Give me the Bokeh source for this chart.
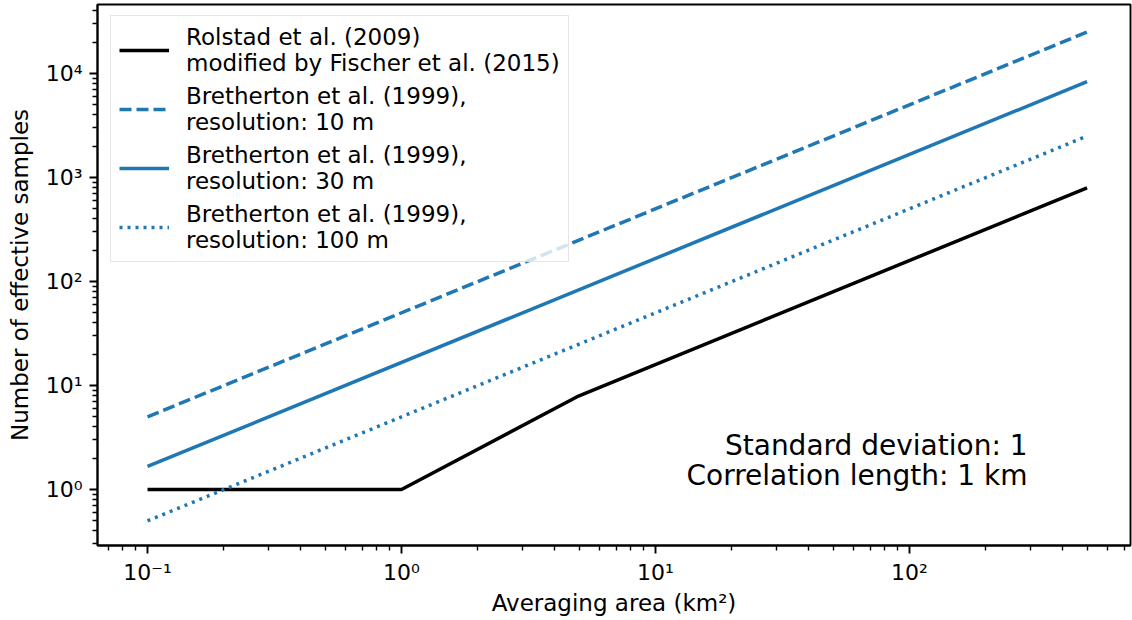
from bokeh.plotting import figure
from bokeh.models import Range1d, FixedTicker, Legend, LegendItem, Label, CustomJSTickFormatter
from bokeh.embed import file_html
from bokeh.resources import INLINE

# ---- data ----
area_rolstad = [0.1, 1.0, 5.0, 500.0]
n_rolstad = [1.0, 1.0, 7.96, 796.0]
area_bret = [0.1, 500.0]
n_bret_10m = [5.0, 25000.0]
n_bret_30m = [1.667, 8333.0]
n_bret_100m = [0.5, 2500.0]

x_major = [0.1, 1, 10, 100]
y_major = [1, 10, 100, 1000, 10000]
x_minor = [m * 10.0 ** e for e in (-2, -1, 0, 1, 2) for m in range(2, 10)]
y_minor = [m * 10.0 ** e for e in (-1, 0, 1, 2, 3, 4) for m in range(2, 10)]

labels = [
    "Rolstad et al. (2009)\nmodified by Fischer et al. (2015)",
    "Bretherton et al. (1999),\nresolution: 10 m",
    "Bretherton et al. (1999),\nresolution: 30 m",
    "Bretherton et al. (1999),\nresolution: 100 m",
]

BLUE = "#1f77b4"
FONT = "DejaVu Sans"

p = figure(
    width=1132, height=620,
    x_axis_type="log", y_axis_type="log",
    x_range=Range1d(10 ** -1.1969, 10 ** 2.870),
    y_range=Range1d(10 ** -0.538, 10 ** 4.663),
    output_backend="svg", toolbar_location=None,
    min_border_left=97, min_border_right=2, min_border_top=4, min_border_bottom=75,
)
p.grid.visible = False
p.outline_line_color = "black"
p.outline_line_width = 1.9
p.outline_line_alpha = 1.0
p.background_fill_color = "white"
p.border_fill_color = "white"

fmt_code = """
const sup = {"-": "\u207b", "0": "\u2070", "1": "\u00b9", "2": "\u00b2", "3": "\u00b3", "4": "\u2074", "5": "\u2075"};
const e = Math.round(Math.log10(tick));
return "10" + String(e).split("").map(c => sup[c]).join("");
"""

p.xaxis.ticker = FixedTicker(ticks=x_major, minor_ticks=x_minor)
p.yaxis.ticker = FixedTicker(ticks=y_major, minor_ticks=y_minor)
for ax in (p.xaxis, p.yaxis):
    ax.formatter = CustomJSTickFormatter(code=fmt_code)
    ax.axis_line_width = 1.9
    ax.major_tick_line_width = 1.9
    ax.minor_tick_line_width = 1.4
    ax.major_tick_out = 8
    ax.major_tick_in = 0
    ax.minor_tick_out = 5
    ax.minor_tick_in = 0
    ax.major_label_text_font = FONT
    ax.major_label_text_font_size = "22px"
    ax.major_label_text_color = "black"
    ax.axis_label_text_font = FONT
    ax.axis_label_text_font_size = "23px"
    ax.axis_label_text_font_style = "normal"
    ax.axis_label_text_color = "black"

p.xaxis.axis_label = "Averaging area (km\u00b2)"
p.yaxis.axis_label = "Number of effective samples"
p.xaxis.major_label_standoff = 6
p.xaxis.axis_label_standoff = 2
p.yaxis.major_label_standoff = 7
p.yaxis.axis_label_standoff = 10

r0 = p.line(area_rolstad, n_rolstad, line_color="black", line_width=3.5)
r1 = p.line(area_bret, n_bret_10m, line_color=BLUE, line_width=3.5, line_dash="12 5")
r2 = p.line(area_bret, n_bret_30m, line_color=BLUE, line_width=3.5)
r3 = p.line(area_bret, n_bret_100m, line_color=BLUE, line_width=3.5, line_dash="3 5")

legend = Legend(
    items=[LegendItem(label=l, renderers=[r]) for l, r in zip(labels, [r0, r1, r2, r3])],
    location=(13, 283),
    label_text_font=FONT,
    label_text_font_size="23px",
    label_text_color="black",
    glyph_width=50,
    glyph_height=40,
    label_standoff=17,
    padding=8,
    spacing=7,
    border_line_color="#cccccc",
    border_line_width=1.5,
    background_fill_color="white",
    background_fill_alpha=0.8,
)
p.add_layout(legend)

for txt, yv in (("Standard deviation: 1", 2.65), ("Correlation length: 1 km", 1.36)):
    p.add_layout(Label(x=291.5, y=yv, text=txt, text_align="right", text_baseline="middle",
                       text_font=FONT, text_font_size="28px", text_color="black"))

open("out.html", "w").write(file_html(p, INLINE))
